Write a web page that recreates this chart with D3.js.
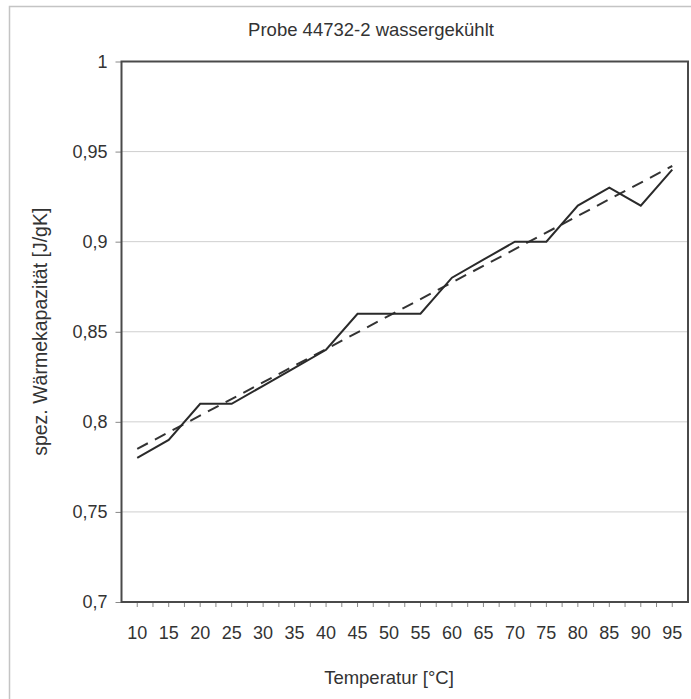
<!DOCTYPE html>
<html>
<head>
<meta charset="utf-8">
<script src="https://cdn.jsdelivr.net/npm/d3@7/dist/d3.min.js"></script>
<style>
  html, body { margin: 0; padding: 0; background: #fff; }
  svg text { font-family: "Liberation Sans", Arial, sans-serif; fill: #333; }
</style>
</head>
<body>
<svg id="chart" width="691" height="699"></svg>
<script>
// Specific heat capacity of sample 44732-2 (water-cooled)
const temperatures = [10, 15, 20, 25, 30, 35, 40, 45, 50, 55, 60, 65, 70, 75, 80, 85, 90, 95];
const heatCapacity = [0.78, 0.79, 0.81, 0.81, 0.82, 0.83, 0.84, 0.86, 0.86, 0.86,
                      0.88, 0.89, 0.90, 0.90, 0.92, 0.93, 0.92, 0.94];
// linear trend line: values at the first and last temperature
const trendEnds = [0.785, 0.942];
const yTicks = [0.7, 0.75, 0.8, 0.85, 0.9, 0.95, 1];

const title = "Probe 44732-2 wassergekühlt";
const xTitle = "Temperatur [°C]";
const yTitle = "spez. Wärmekapazität [J/gK]";

const svg = d3.select("#chart");
const plot = { left: 121.5, right: 688, top: 61.5, bottom: 602 };

const fmt = v => String(+v.toFixed(2)).replace(".", ",");

// chart frame (runs past the right and bottom edges)
svg.append("rect")
  .attr("x", 9.5).attr("y", 6.5)
  .attr("width", 720).attr("height", 720)
  .attr("fill", "#fff").attr("stroke", "#c4c4c4").attr("stroke-width", 1.5);

const x = d3.scaleBand().domain(temperatures).range([plot.left, plot.right]).padding(0);
const cx = t => x(t) + x.bandwidth() / 2;
const y = d3.scaleLinear().domain([0.7, 1]).range([plot.bottom, plot.top]);

// horizontal grid
svg.append("g")
  .selectAll("line")
  .data(yTicks.slice(1, -1))
  .join("line")
  .attr("x1", plot.left).attr("x2", plot.right)
  .attr("y1", d => y(d)).attr("y2", d => y(d))
  .attr("stroke", "#cfcfcf").attr("stroke-width", 1);

// y axis
const yAxis = svg.append("g")
  .attr("transform", `translate(${plot.left},0)`)
  .call(d3.axisLeft(y).tickValues(yTicks).tickFormat(fmt).tickSize(6).tickPadding(8).tickSizeOuter(0));
yAxis.select(".domain").remove();
yAxis.selectAll(".tick line").attr("stroke", "#888");
yAxis.selectAll("text").attr("font-size", 18).attr("fill", "#333");

// x axis: labels at category centres
const xAxis = svg.append("g")
  .attr("transform", `translate(0,${plot.bottom})`)
  .call(d3.axisBottom(x).tickSize(5).tickPadding(19).tickSizeOuter(0));
xAxis.select(".domain").remove();
xAxis.selectAll(".tick line").attr("stroke", "#888");
xAxis.selectAll("text").attr("font-size", 18).attr("fill", "#333");

// tick marks at category boundaries
svg.append("g")
  .selectAll("line")
  .data(temperatures.slice(1))
  .join("line")
  .attr("x1", d => x(d)).attr("x2", d => x(d))
  .attr("y1", plot.bottom).attr("y2", plot.bottom + 5)
  .attr("stroke", "#888");

// plot border
svg.append("rect")
  .attr("x", plot.left).attr("y", plot.top)
  .attr("width", plot.right - plot.left).attr("height", plot.bottom - plot.top)
  .attr("fill", "none").attr("stroke", "#4a4a4a").attr("stroke-width", 2);

// trend line (dashed)
svg.append("line")
  .attr("x1", cx(temperatures[0])).attr("y1", y(trendEnds[0]))
  .attr("x2", cx(temperatures[temperatures.length - 1])).attr("y2", y(trendEnds[1]))
  .attr("stroke", "#333").attr("stroke-width", 2).attr("stroke-dasharray", "12,8");

// measured values
const line = d3.line().x((d, i) => cx(temperatures[i])).y(d => y(d));
svg.append("path")
  .datum(heatCapacity)
  .attr("d", line)
  .attr("fill", "none").attr("stroke", "#2a2a2a").attr("stroke-width", 2)
  .attr("stroke-linejoin", "miter");

// titles
svg.append("text")
  .attr("x", 371).attr("y", 36)
  .attr("text-anchor", "middle").attr("font-size", 18.5)
  .text(title);

svg.append("text")
  .attr("x", 389).attr("y", 684)
  .attr("text-anchor", "middle").attr("font-size", 18.5)
  .text(xTitle);

svg.append("text")
  .attr("transform", `translate(47,${(plot.top + plot.bottom) / 2}) rotate(-90)`)
  .attr("text-anchor", "middle").attr("font-size", 19.5)
  .text(yTitle);
</script>
</body>
</html>
